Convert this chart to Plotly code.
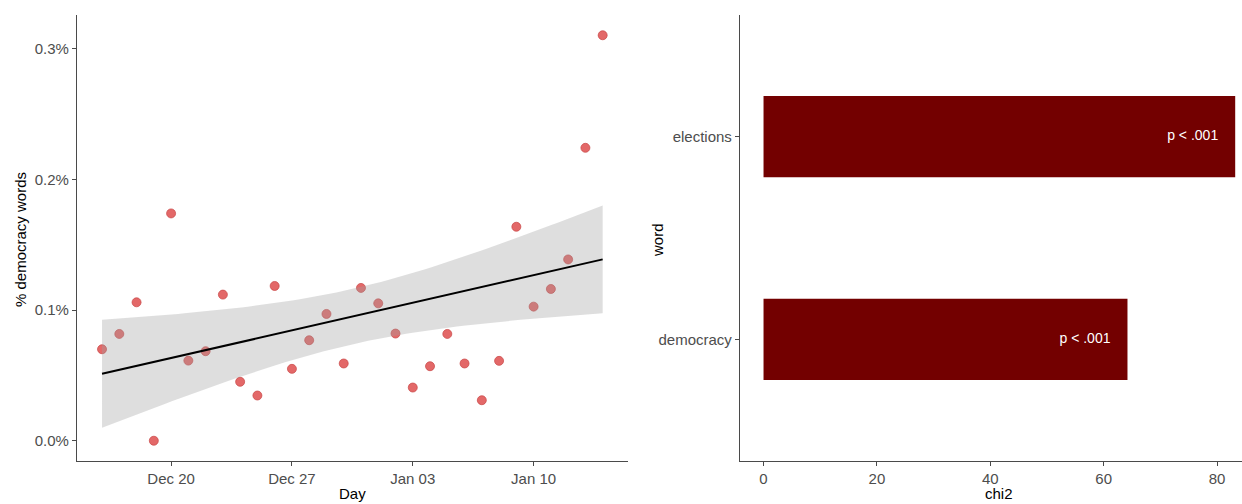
import numpy as np
import plotly.graph_objects as go

# ---------------- data ----------------
dates = ["2020-12-16", "2020-12-17", "2020-12-18", "2020-12-19", "2020-12-20",
         "2020-12-21", "2020-12-22", "2020-12-23", "2020-12-24", "2020-12-25",
         "2020-12-26", "2020-12-27", "2020-12-28", "2020-12-29", "2020-12-30",
         "2020-12-31", "2021-01-01", "2021-01-02", "2021-01-03", "2021-01-04",
         "2021-01-05", "2021-01-06", "2021-01-07", "2021-01-08", "2021-01-09",
         "2021-01-10", "2021-01-11", "2021-01-12", "2021-01-13", "2021-01-14"]
pct_democracy = [0.000700, 0.000817, 0.001059, 0.000000, 0.001739,
                 0.000613, 0.000685, 0.001118, 0.000451, 0.000346,
                 0.001184, 0.000550, 0.000769, 0.000970, 0.000591,
                 0.001169, 0.001051, 0.000820, 0.000407, 0.000570,
                 0.000817, 0.000591, 0.000310, 0.000611, 0.001637,
                 0.001026, 0.001161, 0.001387, 0.002241, 0.003102]

words = ["democracy", "elections"]
chi2 = [64.2, 83.2]
p_labels = ["p < .001", "p < .001"]

x_ticks = ["2020-12-20", "2020-12-27", "2021-01-03", "2021-01-10"]
x_ticklabels = ["Dec 20", "Dec 27", "Jan 03", "Jan 10"]
y_ticks = [0.0, 0.001, 0.002, 0.003]
y_ticklabels = ["0.0%", "0.1%", "0.2%", "0.3%"]
chi_ticks = [0, 20, 40, 60, 80]

# ---------------- linear fit with 95% CI (like geom_smooth(method="lm")) ----------------
d = np.array(dates, dtype="datetime64[D]")
t = (d - d[0]).astype(float)
y = np.array(pct_democracy)
n = len(t)
b1, b0 = np.polyfit(t, y, 1)
resid = y - (b0 + b1 * t)
s = np.sqrt(np.sum(resid ** 2) / (n - 2))
sxx = np.sum((t - t.mean()) ** 2)
tq = 2.0484  # t quantile 0.975, df = 28
tg = np.linspace(t.min(), t.max(), 80)
fit = b0 + b1 * tg
se = s * np.sqrt(1 / n + (tg - t.mean()) ** 2 / sxx)
lo, hi = fit - tq * se, fit + tq * se
grid_dates = (d[0] + (tg * 24 * 3600).astype("timedelta64[s]")).astype(str)

# ---------------- figure ----------------
FONT = "Liberation Sans, Arial, Helvetica, sans-serif"
AX = "#4a4a4a"
TICKC = "#4D4D4D"

fig = go.Figure()

fig.add_trace(go.Scatter(
    x=dates, y=pct_democracy, mode="markers",
    marker=dict(size=9, color="rgba(226,96,96,0.95)",
                line=dict(color="rgba(200,70,70,0.9)", width=0.8)),
    xaxis="x", yaxis="y", showlegend=False, hoverinfo="skip"))

fig.add_trace(go.Scatter(
    x=list(grid_dates) + list(grid_dates[::-1]),
    y=list(hi) + list(lo[::-1]),
    fill="toself", fillcolor="rgba(160,160,160,0.35)",
    line=dict(width=0), mode="lines",
    xaxis="x", yaxis="y", showlegend=False, hoverinfo="skip"))

fig.add_trace(go.Scatter(
    x=grid_dates, y=fit, mode="lines",
    line=dict(color="black", width=2),
    xaxis="x", yaxis="y", showlegend=False, hoverinfo="skip"))

fig.add_trace(go.Bar(
    y=words, x=chi2, orientation="h",
    marker=dict(color="#730000", line=dict(width=0)),
    xaxis="x2", yaxis="y2", showlegend=False, hoverinfo="skip"))

fig.add_trace(go.Scatter(
    y=words, x=[c - 3 for c in chi2], mode="text",
    text=p_labels, textposition="middle left",
    textfont=dict(color="white", size=14, family=FONT),
    xaxis="x2", yaxis="y2", showlegend=False, hoverinfo="skip"))

axis_common = dict(showline=True, linecolor=AX, linewidth=1.3, ticks="outside",
                   ticklen=4, tickcolor=AX, tickwidth=1, showgrid=False,
                   zeroline=False, automargin=False,
                   tickfont=dict(family=FONT, size=15, color=TICKC))

fig.update_layout(
    width=1242, height=504,
    margin=dict(l=0, r=0, t=15, b=43),
    paper_bgcolor="white", plot_bgcolor="white",
    bargap=0.6,
    font=dict(family=FONT, size=15, color="black"),
    xaxis=dict(domain=[77 / 1242, 627.7 / 1242], type="date",
               range=["2020-12-14 13:12", "2021-01-15 10:48"],
               tickvals=x_ticks, ticktext=x_ticklabels, anchor="y",
               **axis_common),
    yaxis=dict(domain=[0, 1], range=[-0.000155, 0.003257],
               tickvals=y_ticks, ticktext=y_ticklabels, anchor="x",
               **axis_common),
    xaxis2=dict(domain=[740 / 1242, 1.0], range=[-4.15, 84.4],
                tickvals=chi_ticks, anchor="y2", **axis_common),
    yaxis2=dict(domain=[0, 1], range=[-0.6, 1.6], type="category",
                categoryorder="array", categoryarray=words, anchor="x2",
                **axis_common),
    annotations=[
        dict(text="% democracy words", x=20 / 1242, y=0.4955, xref="paper", yref="paper",
             textangle=-90, showarrow=False, xanchor="center", yanchor="middle",
             font=dict(size=15, color="black", family=FONT)),
        dict(text="Day", x=352 / 1242, y=-0.0955, xref="paper", yref="paper",
             showarrow=False, xanchor="center", yanchor="bottom",
             font=dict(size=15, color="black", family=FONT)),
        dict(text="word", x=657 / 1242, y=0.4955, xref="paper", yref="paper",
             textangle=-90, showarrow=False, xanchor="center", yanchor="middle",
             font=dict(size=15, color="black", family=FONT)),
        dict(text="chi2", x=999 / 1242, y=-0.0955, xref="paper", yref="paper",
             showarrow=False, xanchor="center", yanchor="bottom",
             font=dict(size=15, color="black", family=FONT)),
    ],
)

fig.write_html("out.html", config={"displayModeBar": False},
               post_script="document.body.style.margin='0';document.body.style.padding='0';")
